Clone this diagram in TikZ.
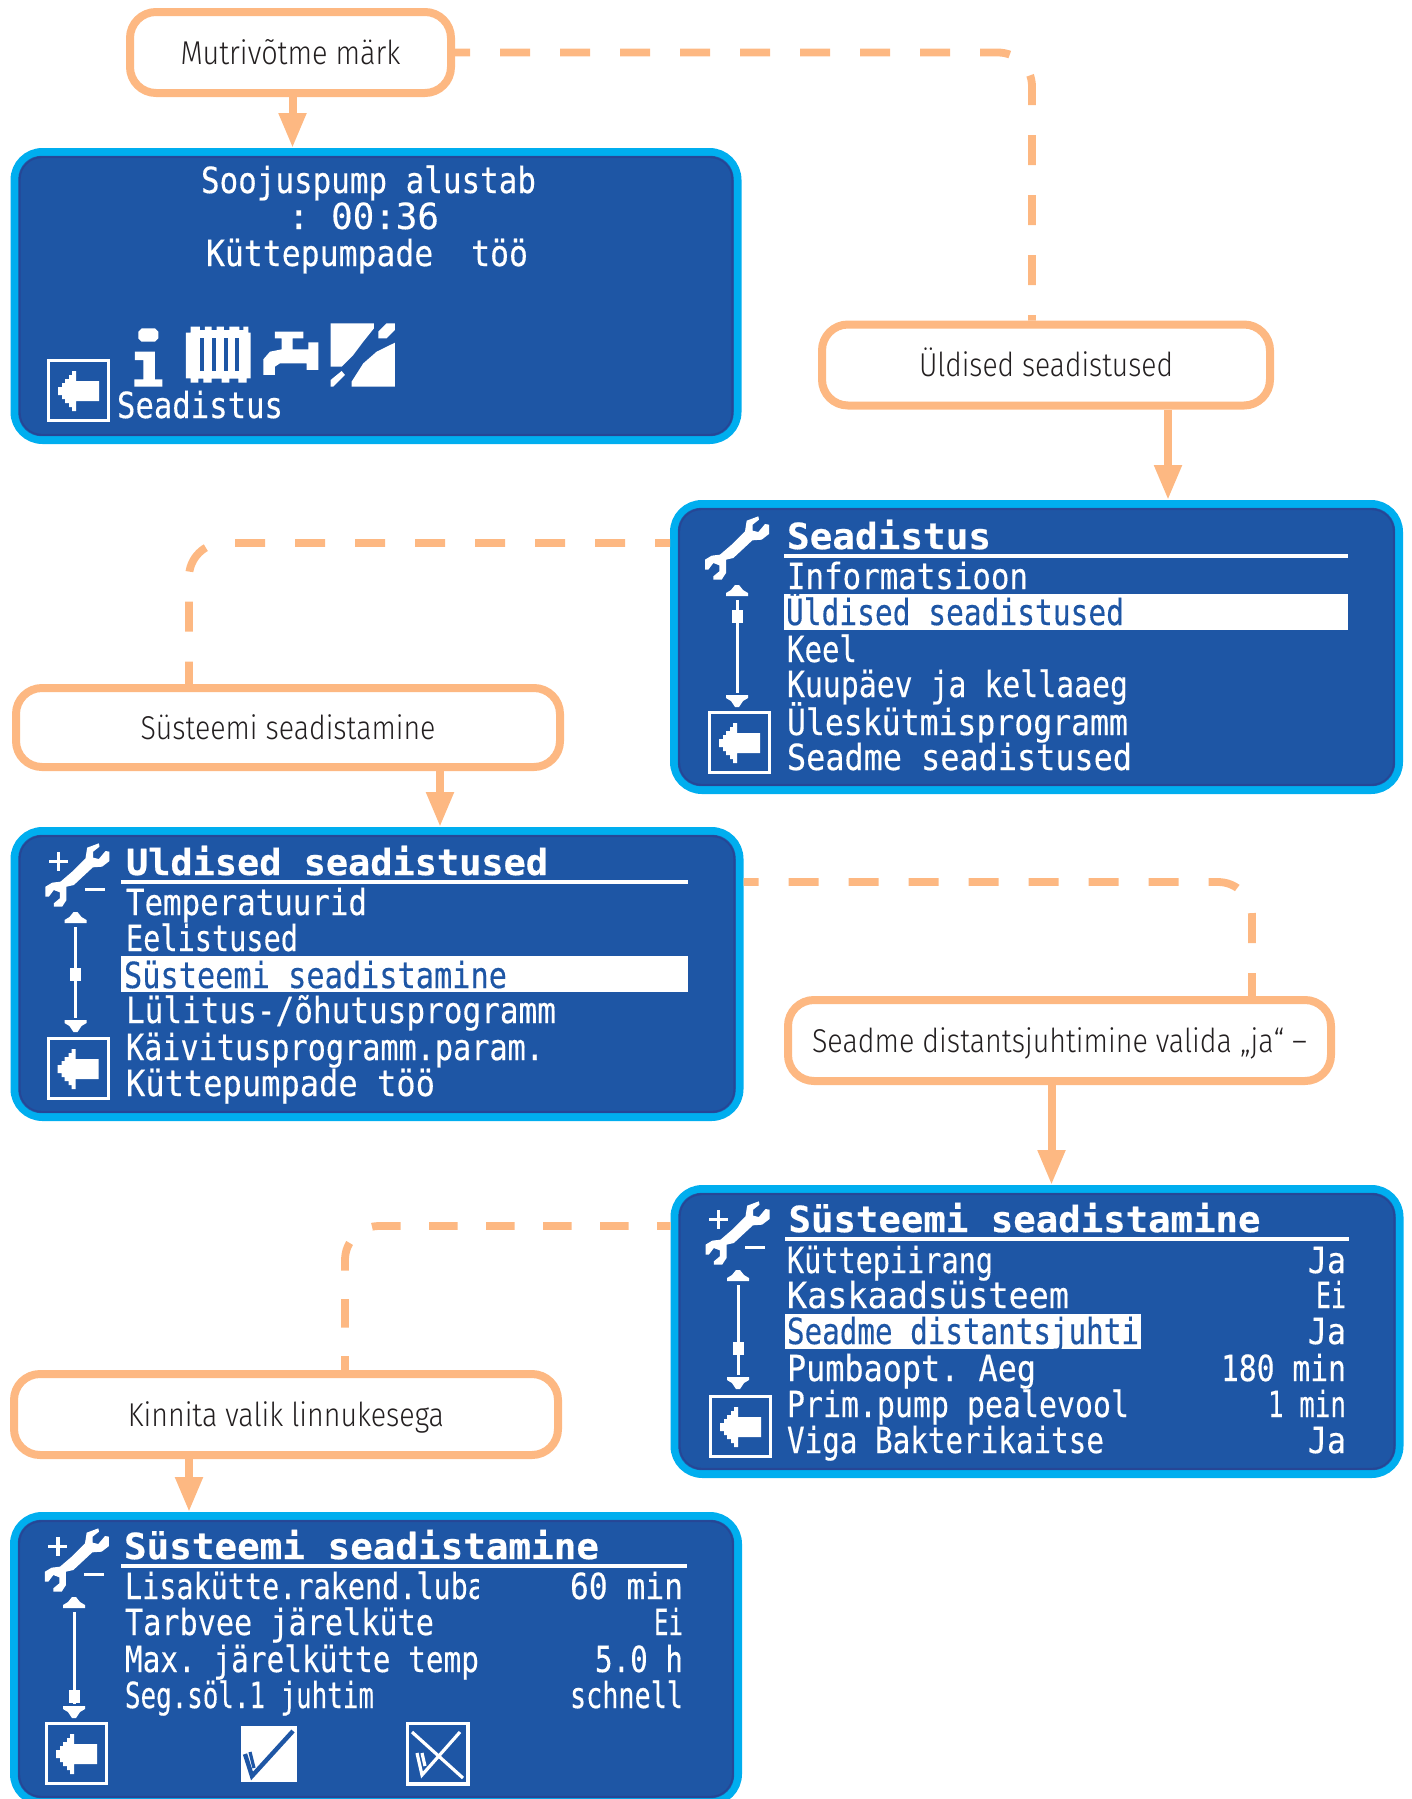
\documentclass[tikz,border=0pt]{standalone}
\usepackage{fontspec}
\usepackage{graphicx}
\usetikzlibrary{arrows.meta}
\newfontfamily\lcdf[FakeBold=0.35]{DejaVu Sans Mono}
\newfontfamily\lcdb[FakeBold=0.5]{DejaVu Sans Mono Bold}
\newfontfamily\labf{Fira Sans Light}
\definecolor{peach}{HTML}{FDB882}
\definecolor{cyanb}{HTML}{00AEEF}
\definecolor{lcdbg}{HTML}{1E56A5}
\definecolor{lcddk}{HTML}{2A4090}
\definecolor{labtxt}{HTML}{231F20}
\newsavebox\fitbox
\newcommand\fitx[2]{\sbox\fitbox{#2}\pgfmathsetmacro\fitr{#1*0.5/\the\wd\fitbox}\scalebox{\fitr}[1]{\usebox\fitbox}}
\tikzset{
  lab/.style={draw=peach,fill=white,line width=4pt,rounded corners=13pt,inner sep=0pt,text height=12pt,text depth=0.5pt,font=\labf\fontsize{16.5}{20}\selectfont,text=labtxt},
  scr/.style={draw=cyanb,fill=lcdbg,line width=4pt,rounded corners=14pt,inner sep=0pt,anchor=north west},
  ln/.style={inner sep=0pt,outer sep=0pt,anchor=base west,text=white,font=\lcdf\fontsize{18}{20}\selectfont},
  lb/.style={ln,font=\lcdb\fontsize{18}{20}\selectfont},
  lh/.style={ln,text=lcdbg},
  arr/.style={draw=peach,line width=4pt,-{Triangle[length=17.5pt,width=13pt]}},
  dsh/.style={draw=peach,line width=3.9pt,dash pattern=on 15pt off 15pt,dash phase=7.5pt,rounded corners=17pt},
  ico/.style={fill=white,draw=none},
  iln/.style={draw=white,line width=1.6pt},
}
\newcommand\Lt[5]{\node[ln] (#1) at (#2,#3) {\fitx{#4}{#5}};}
\newcommand\Lb[5]{\node[lb] (#1) at (#2,#3) {\fitx{#4}{#5}};}
\newcommand\Lh[5]{\node[lh] (#1) at (#2,#3) {\fitx{#4}{#5}};}
% screen: name, outer x, outer y, outer w, outer h
\newcommand\Screen[5]{%
  \node[scr,minimum width=#4*0.5pt-4pt,minimum height=#5*0.5pt-4pt] (#1) at (#2,#3) {};
  \draw[lcddk,line width=1.2pt,rounded corners=11pt,opacity=.7] (#2+9,#3+9) rectangle (#2+#4-9,#3+#5-9);
}
\newcommand\Wrench[2]{%
  \begin{scope}[shift={(#1+20,#2+8)},scale=0.3333]
  \fill[ico] (170,38)--(205,25)--(207,35)--(188,50)--(188,68)--(205,72)--(225,48)--(237,50)--(237,78)--(215,95)--(187,97)--(130,150)--(108,155)--(108,195)--(95,215)--(70,215)--(70,205)--(88,190)--(88,172)--(70,165)--(55,185)--(45,185)--(45,155)--(65,143)--(90,140)--(125,110)--(165,70)--cycle;
  \end{scope}}
\newcommand\PlusMinus[2]{%
  \fill[ico] (#1+38,#2+32.5) rectangle (#1+57,#2+35.5);
  \fill[ico] (#1+46,#2+24.5) rectangle (#1+49.5,#2+43.5);
  \fill[ico] (#1+74,#2+60.5) rectangle (#1+94,#2+63.5);}
% ox, oy, scrollbar x(rel), knob top(rel), tri down top(rel)
\newcommand\ScrollBar[5]{%
  \begin{scope}[shift={(#1+#3,#2)}]
  \fill[ico] (-2,85)--(2,85)--(6,90)--(11,93)--(11,96)--(-11,96)--(-11,93)--(-6,90)--cycle;
  \fill[ico] (-1.5,100) rectangle (1.5,#5-2);
  \fill[ico] (-5.5,#4) rectangle (5.5,#4+12.5);
  \fill[ico] (-11,#5)--(11,#5)--(11,#5+3)--(6,#5+6)--(2,#5+12)--(-2,#5+12)--(-6,#5+6)--(-11,#5+3)--cycle;
  \end{scope}}
\newcommand\BackBox[2]{%
  \begin{scope}[shift={(#1,#2)}]
  \draw[draw=white,line width=1.5pt] (1.5,1.5) rectangle (61.5,61.5);
  \fill[ico] (11,28)--(15,28)--(15,24)--(18,24)--(18,20)--(22,20)--(22,16)--(25,16)--(25,12)--(29,12)--(29,22)--(52,22)--(52,42)--(29,42)--(29,52)--(25,52)--(25,48)--(22,48)--(22,44)--(18,44)--(18,40)--(15,40)--(15,36)--(11,36)--cycle;
  \end{scope}}
\begin{document}
\begin{tikzpicture}[x=0.5pt,y=-0.5pt]
\clip (0,0) rectangle (1412,1799);
% labels
\node[lab,minimum width=321*0.5pt,minimum height=81*0.5pt] (lab1) at (290.5,52.5) {\fitx{220}{Mutrivõtme märk}};
\node[lab,minimum width=448*0.5pt,minimum height=81*0.5pt] (lab2) at (1046,365) {\fitx{254}{Üldised seadistused}};
\node[lab,minimum width=544*0.5pt,minimum height=79*0.5pt] (lab3) at (288,727.5) {\fitx{295}{Süsteemi seadistamine}};
\node[lab,minimum width=543*0.5pt,minimum height=81*0.5pt] (lab4) at (1059.5,1040.5) {\fitx{495}{Seadme distantsjuhtimine valida „ja“ –}};
\node[lab,minimum width=544*0.5pt,minimum height=81*0.5pt] (lab5) at (286,1414.5) {\fitx{316}{Kinnita valik linnukesega}};
% screens
\Screen{scr1}{10.5}{148}{731}{296}
\Screen{scr2}{670}{500}{733}{294}
\Screen{scr3}{10.5}{827}{733}{294}
\Screen{scr4}{670.5}{1185}{733}{293}
\Screen{scr5}{10}{1512}{732}{294}
% connectors
\coordinate (s1) at ([xshift=1pt]lab1.south);
\coordinate (s2) at ([xshift=61pt]lab2.south);
\coordinate (s3) at ([xshift=76pt]lab3.south);
\coordinate (s4) at ([xshift=-4pt]lab4.south);
\coordinate (s5) at ([xshift=-48.5pt]lab5.south);
\draw[arr] (s1) -- (scr1.north -| s1);
\draw[arr] (s2) -- (scr2.north -| s2);
\draw[arr] (s3) -- (scr3.north -| s3);
\draw[arr] (s4) -- (scr4.north -| s4);
\draw[arr] (s5) -- (scr5.north -| s5);
\draw[dsh] (lab1.east) -| ([xshift=-7pt]lab2.north);
\draw[dsh] ([yshift=-21.5pt]scr2.north west) -| ([xshift=-49.5pt]lab3.north);
\draw[dsh] ([yshift=-27.5pt]scr3.north east) -| ([xshift=96.25pt]lab4.north);
\draw[dsh,dash pattern=on 14.25pt off 14.25pt] ([yshift=-20.5pt]scr4.north west) -| ([xshift=29.5pt]lab5.north);
% screen 1
\Lt{a1}{201}{193}{335}{Soojuspump alustab}
\Lt{a2}{288}{229}{151}{:\ 00:36}
\Lt{a3}{206}{266}{322}{Küttepumpade\ \ töö}
\Lt{a4}{117}{418}{166}{Seadistus}
\BackBox{47}{359}
\begin{scope}[shift={(100,300)},scale=0.3333]
  \fill[ico] (115,95)--(125,85)--(165,85)--(175,95)--(175,115)--(165,125)--(125,125)--(115,115)--cycle;
  \fill[ico] (105,155)--(165,155)--(165,238)--(187,238)--(187,260)--(103,260)--(103,238)--(130,238)--(130,180)--(105,180)--cycle;
  \fill[ico] (258,98)--(272,98)--(272,80)--(300,80)--(300,90)--(315,90)--(315,80)--(335,80)--(335,90)--(350,90)--(350,80)--(372,80)--(372,90)--(388,90)--(388,80)--(418,80)--(418,90)--(430,90)--(430,80)--(445,80)--(445,98)--(452,98)--(452,235)--(440,235)--(440,248)--(415,248)--(415,236)--(388,236)--(388,248)--(365,248)--(365,236)--(335,236)--(335,248)--(310,248)--(310,236)--(295,236)--(295,248)--(272,248)--(272,235)--(258,235)--cycle;
  \fill[lcdbg] (300,115) rectangle (313,212);
  \fill[lcdbg] (335,115) rectangle (348,212);
  \fill[lcdbg] (372,115) rectangle (385,212);
  \fill[lcdbg] (405,115) rectangle (418,212);
  \fill[ico] (525,95)--(610,95)--(610,115)--(578,115)--(578,148)--(625,148)--(625,127)--(655,127)--(655,210)--(620,210)--(620,190)--(540,190)--(525,200)--(525,225)--(490,225)--(490,178)--(510,155)--(545,148)--(545,115)--(525,115)--cycle;
  \fill[ico] (692,70)--(822,70)--(822,85)--(790,125)--(760,165)--(725,200)--(692,200)--cycle;
  \fill[ico] (885,128)--(885,260)--(755,260)--(755,245)--(790,190)--(830,155)--cycle;
  \fill[ico] (860,70)--(885,70)--(885,90)--(860,115)--(835,115)--(835,95)--cycle;
  \fill[ico] (725,213)--(735,225)--(700,260)--(692,260)--(692,240)--cycle;
\end{scope}
% screen 2
\Wrench{670}{500}
\ScrollBar{670}{500}{67}{110}{195}
\BackBox{708}{711}
\Lb{b0}{787}{549}{204}{Seadistus}
\fill[ico] (784,554) rectangle (1348,558);
\fill[ico] (784,594) rectangle (1348,630);
\Lt{b1}{787}{589}{241}{Informatsioon}
\Lh{b2}{786}{625}{338}{Üldised seadistused}
\Lt{b3}{787}{662}{70}{Keel}
\Lt{b4}{787}{697}{341}{Kuupäev ja kellaaeg}
\Lt{b5}{787}{735}{341}{Üleskütmisprogramm}
\Lt{b6}{787}{770}{345}{Seadme seadistused}
% screen 3
\Wrench{10.5}{827}
\PlusMinus{10.5}{827}
\ScrollBar{10.5}{827}{65}{141}{193}
\BackBox{46.5}{1037}
\Lb{c0}{126}{875}{422}{Uldised seadistused}
\fill[ico] (121,880) rectangle (688,884);
\fill[ico] (121,956) rectangle (688,992);
\Lt{c1}{126}{915}{241}{Temperatuurid}
\Lt{c2}{126}{951}{172}{Eelistused}
\Lh{c3}{124}{988}{383}{Süsteemi seadistamine}
\Lt{c4}{126}{1023}{430}{Lülitus-/õhutusprogramm}
\Lt{c5}{126}{1060}{418}{Käivitusprogramm.param.}
\Lt{c6}{126}{1096}{309}{Küttepumpade töö}
% screen 4
\Wrench{670.5}{1185}
\PlusMinus{670.5}{1185}
\ScrollBar{670.5}{1185}{67.5}{157}{192}
\BackBox{709}{1395}
\Lb{d0}{788.5}{1232}{472}{Süsteemi seadistamine}
\fill[ico] (785,1237) rectangle (1349,1241);
\fill[ico] (785,1314) rectangle (1140.6,1349);
\Lt{d1}{787}{1273}{206}{Küttepiirang}
\Lt{d2}{787}{1308}{282}{Kaskaadsüsteem}
\Lh{d3}{787}{1344}{352}{Seadme distantsjuhti}
\Lt{d4}{787}{1381}{249}{Pumbaopt.\ Aeg}
\Lt{d5}{787}{1417}{342}{Prim.pump pealevool}
\Lt{d6}{787}{1453}{317}{Viga Bakterikaitse}
\Lt{d7}{1308}{1273}{38}{Ja}
\Lt{d8}{1316}{1308}{30}{Ei}
\Lt{d9}{1308}{1344}{38}{Ja}
\Lt{d10}{1221}{1381}{125}{180\ min}
\Lt{d11}{1268}{1417}{78}{1\ min}
\Lt{d12}{1308}{1453}{38}{Ja}
% screen 5
\Wrench{10}{1512}
\PlusMinus{10}{1512}
\ScrollBar{10}{1512}{64}{178}{194}
\BackBox{45}{1722}
\Lb{e0}{124}{1559}{475}{Süsteemi seadistamine}
\fill[ico] (121,1564) rectangle (687,1568);
\Lt{e1}{125}{1599}{360}{Lisakütte.rakend.luba}
\fill[lcdbg] (479,1572) rectangle (490,1604);
\Lt{e2}{125}{1635}{309}{Tarbvee järelküte}
\Lt{e3}{125}{1672}{354}{Max.\ järelkütte\ temp}
\Lt{e4}{125}{1708}{249}{Seg.söl.1 juhtim}
\Lt{e5}{570}{1599}{113}{60\ min}
\Lt{e6}{654}{1635}{29}{Ei}
\Lt{e7}{595}{1672}{88}{5.0\ h}
\Lt{e8}{570}{1708}{113}{schnell}
\fill[ico] (241,1726) rectangle (297,1782);
\draw[lcdbg,line width=2.2pt] (245,1754) -- (252,1776) -- (293,1731);
\draw[lcdbg,line width=1.6pt] (250,1752) -- (254,1768);
\draw[iln] (407.5,1723.5) rectangle (468,1784);
\draw[iln] (412,1732) -- (463,1778);
\draw[iln] (460,1732) -- (422,1775) -- (417,1753);
\draw[iln] (422,1753) -- (425,1766);
\end{tikzpicture}
\end{document}
